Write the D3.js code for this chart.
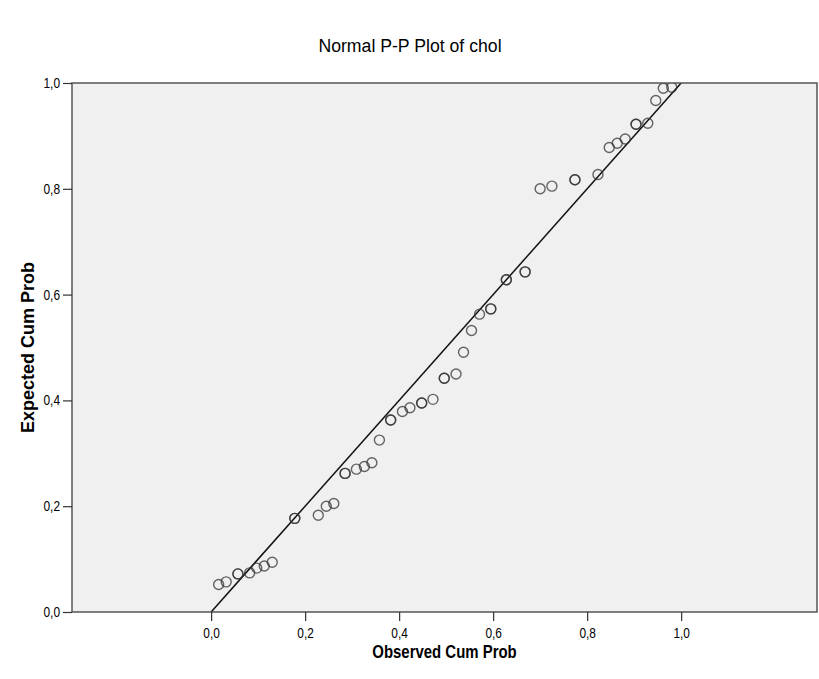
<!DOCTYPE html>
<html>
<head>
<meta charset="utf-8">
<script src="https://cdn.jsdelivr.net/npm/d3@7"></script>
<style>
  body { margin: 0; background: #ffffff; }
  text { font-family: "Liberation Sans", Arial, sans-serif; fill: #000; }
</style>
</head>
<body>
<script>
// Data (ties appear as repeated points)
var observedCum = [0.016, 0.032, 0.057, 0.057, 0.082, 0.097, 0.113, 0.130, 0.178, 0.178,
    0.228, 0.245, 0.261, 0.285, 0.285, 0.309, 0.326, 0.342, 0.358, 0.382, 0.382,
    0.407, 0.423, 0.448, 0.448, 0.472, 0.496, 0.496, 0.521, 0.537, 0.554, 0.571,
    0.595, 0.595, 0.628, 0.628, 0.668, 0.668, 0.700, 0.725, 0.774, 0.774, 0.823,
    0.847, 0.864, 0.881, 0.904, 0.904, 0.929, 0.946, 0.962, 0.980];
var expectedCum = [0.052, 0.057, 0.072, 0.072, 0.074, 0.083, 0.087, 0.094, 0.177, 0.177,
    0.183, 0.200, 0.205, 0.262, 0.262, 0.270, 0.275, 0.282, 0.325, 0.363, 0.363,
    0.379, 0.386, 0.395, 0.395, 0.402, 0.442, 0.442, 0.450, 0.491, 0.532, 0.563,
    0.573, 0.573, 0.628, 0.628, 0.643, 0.643, 0.800, 0.805, 0.817, 0.817, 0.827,
    0.878, 0.886, 0.894, 0.922, 0.922, 0.924, 0.967, 0.990, 0.992];
var tickValues = [0, 0.2, 0.4, 0.6, 0.8, 1.0];
var tickLabels = ['0,0', '0,2', '0,4', '0,6', '0,8', '1,0'];
var titleText = 'Normal P-P Plot of chol';
var xTitle = 'Observed Cum Prob';
var yTitle = 'Expected Cum Prob';

// Layout
var width = 819;
var height = 679;
var plotLeft = 72;
var plotRight = 817;
var plotTop = 83;
var plotBottom = 612;
var narrow = 0.85; // squeeze text to look like a narrow face

var svg = d3.select('body')
    .append('svg')
    .attr('width', width)
    .attr('height', height);

var x = d3.scaleLinear()
    .domain([-0.296, 1.289])
    .range([plotLeft, plotRight]);

var y = d3.scaleLinear()
    .domain([0, 1])
    .range([plotBottom, plotTop]);

// plot background
svg.append('rect')
    .attr('x', plotLeft)
    .attr('y', plotTop)
    .attr('width', plotRight - plotLeft)
    .attr('height', plotBottom - plotTop)
    .attr('fill', '#f0f0f0');

svg.append('defs').append('clipPath')
    .attr('id', 'plotClip')
    .append('rect')
    .attr('x', plotLeft)
    .attr('y', plotTop)
    .attr('width', plotRight - plotLeft)
    .attr('height', plotBottom - plotTop);

var plot = svg.append('g').attr('clip-path', 'url(#plotClip)');

// reference line y = x
plot.append('line')
    .attr('x1', x(0))
    .attr('y1', y(0))
    .attr('x2', x(1.2))
    .attr('y2', y(1.2))
    .attr('stroke', '#111')
    .attr('stroke-width', 1.5);

var points = observedCum.map(function(v, i) { return [v, expectedCum[i]]; });

plot.selectAll('circle')
    .data(points)
    .enter()
    .append('circle')
    .attr('cx', function(d) { return x(d[0]); })
    .attr('cy', function(d) { return y(d[1]); })
    .attr('r', 5)
    .attr('fill', 'none')
    .attr('stroke', '#333')
    .attr('stroke-opacity', 0.75)
    .attr('stroke-width', 1.4);

// frame
svg.append('rect')
    .attr('x', plotLeft)
    .attr('y', plotTop)
    .attr('width', plotRight - plotLeft)
    .attr('height', plotBottom - plotTop)
    .attr('fill', 'none')
    .attr('stroke', '#555')
    .attr('stroke-width', 1.5);

// axes
var xAxis = d3.axisBottom(x)
    .tickValues(tickValues)
    .tickFormat(function(d, i) { return tickLabels[i]; })
    .tickSize(9)
    .tickSizeOuter(0);

var yAxis = d3.axisLeft(y)
    .tickValues(tickValues)
    .tickFormat(function(d, i) { return tickLabels[i]; })
    .tickSize(9)
    .tickSizeOuter(0);

var gx = svg.append('g')
    .attr('transform', 'translate(0,' + plotBottom + ')')
    .call(xAxis);

var gy = svg.append('g')
    .attr('transform', 'translate(' + plotLeft + ',0)')
    .call(yAxis);

[gx, gy].forEach(function(g) {
    g.select('.domain').remove();
    g.selectAll('line').attr('stroke', '#333').attr('stroke-width', 1.2);
    g.selectAll('text')
        .style('font-family', '"Liberation Sans", Arial, sans-serif')
        .style('font-size', '14px')
        .attr('fill', '#000');
});
gx.selectAll('text')
    .attr('dy', '1.0em')
    .attr('transform', 'scale(' + narrow + ',1)');
gy.selectAll('text')
    .attr('x', -12 / narrow)
    .attr('transform', 'scale(' + narrow + ',1)');

function squeezedText(px, py, str, size, k, weight, rotate) {
    var t = 'translate(' + px + ',' + py + ')';
    if (rotate) t += ' rotate(' + rotate + ')';
    t += ' scale(' + k + ',1)';
    return svg.append('text')
        .attr('transform', t)
        .attr('text-anchor', 'middle')
        .style('font-size', size + 'px')
        .style('font-weight', weight)
        .text(str);
}

// titles
squeezedText(410, 52, titleText, 19, 0.93, 'normal');
squeezedText((plotLeft + plotRight) / 2, 658, xTitle, 18, 0.83, 'bold');
squeezedText(34, (plotTop + plotBottom) / 2, yTitle, 18, 1.0, 'bold', -90);
</script>
</body>
</html>
